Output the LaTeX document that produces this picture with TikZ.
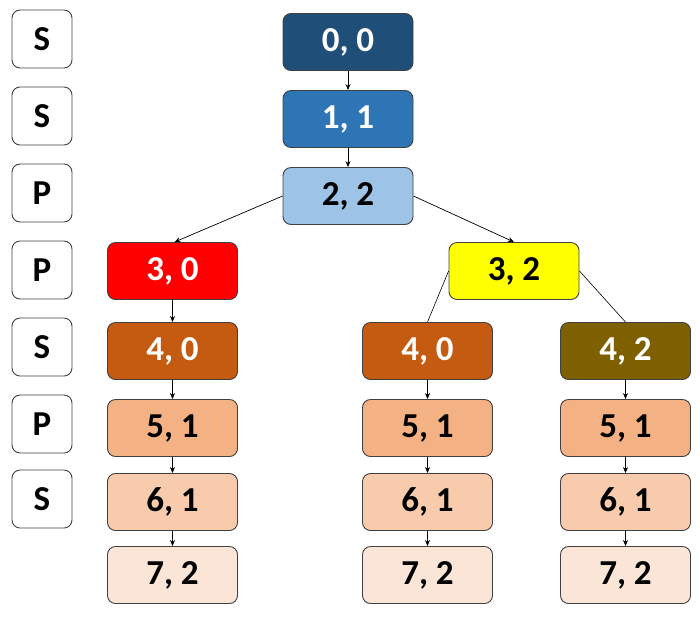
\documentclass[tikz,border=0pt]{standalone}
\usepackage{fontspec}
\setmainfont{Carlito}
\usetikzlibrary{arrows.meta}
\definecolor{c00}{HTML}{1F4E79}
\definecolor{c11}{HTML}{2E75B6}
\definecolor{c22}{HTML}{9DC3E6}
\definecolor{c30}{HTML}{FF0000}
\definecolor{c32}{HTML}{FFFF00}
\definecolor{c40}{HTML}{C55A11}
\definecolor{c42}{HTML}{7F6000}
\definecolor{c51}{HTML}{F4B183}
\definecolor{c61}{HTML}{F8CBAD}
\definecolor{c72}{HTML}{FBE5D6}
\definecolor{bord}{HTML}{404040}
\tikzset{
  box/.style={draw=bord, line width=0.9pt, rounded corners=8pt, minimum width=130pt, minimum height=57pt, inner sep=0pt, font=\fontsize{35}{40}\selectfont\bfseries},
  lab/.style={draw=bord, line width=0.9pt, rounded corners=8pt, minimum width=60pt, minimum height=58pt, inner sep=0pt, fill=white, font=\fontsize{35}{40}\selectfont\bfseries},
  arr/.style={-{Stealth[length=6pt,width=5pt]}, line width=0.7pt},
  ln/.style={line width=0.6pt}
}
\begin{document}
\begin{tikzpicture}[x=1pt,y=-1pt]
\useasboundingbox (0,0) rectangle (700,619);
% left labels
\node[lab] (l1) at (42,39) {S};
\node[lab] (l2) at (42,116) {S};
\node[lab] (l3) at (42,193) {P};
\node[lab] (l4) at (42,270) {P};
\node[lab] (l5) at (42,347) {S};
\node[lab] (l6) at (42,424) {P};
\node[lab] (l7) at (42,499) {S};
% main chain
\node[box, fill=c00, text=white] (n00) at (348,42) {0, 0};
\node[box, fill=c11, text=white] (n11) at (348,119) {1, 1};
\node[box, fill=c22] (n22) at (348,196) {2, 2};
% left branch
\node[box, fill=c30, text=white] (a30) at (172.5,271) {3, 0};
\node[box, fill=c40, text=white] (a40) at (172.5,351) {4, 0};
\node[box, fill=c51] (a51) at (172.5,428) {5, 1};
\node[box, fill=c61] (a61) at (172.5,502) {6, 1};
\node[box, fill=c72] (a72) at (172.5,575) {7, 2};
% right branch
\node[box, fill=c32] (b32) at (514,271) {3, 2};
\node[box, fill=c40, text=white] (b40) at (427.5,351) {4, 0};
\node[box, fill=c51] (b51) at (427.5,428) {5, 1};
\node[box, fill=c61] (b61) at (427.5,502) {6, 1};
\node[box, fill=c72] (b72) at (427.5,575) {7, 2};
\node[box, fill=c42, text=white] (c42) at (625.5,351) {4, 2};
\node[box, fill=c51] (c51) at (625.5,428) {5, 1};
\node[box, fill=c61] (c61) at (625.5,502) {6, 1};
\node[box, fill=c72] (c72) at (625.5,575) {7, 2};
% connectors
\draw[arr] (n00) -- (n11);
\draw[arr] (n11) -- (n22);
\draw[arr] (n22.west) -- ([xshift=2pt]a30.north);
\draw[arr] (n22.east) -- (b32.north);
\draw[ln] (b32.west) -- (b40.north);
\draw[ln] (b32.east) -- (c42.north);
\draw[arr] (a30) -- (a40);
\draw[arr] (a40) -- (a51);
\draw[arr] (a51) -- (a61);
\draw[arr] (a61) -- (a72);
\draw[arr] (b40) -- (b51);
\draw[arr] (b51) -- (b61);
\draw[arr] (b61) -- (b72);
\draw[arr] (c42) -- (c51);
\draw[arr] (c51) -- (c61);
\draw[arr] (c61) -- (c72);
\end{tikzpicture}
\end{document}
